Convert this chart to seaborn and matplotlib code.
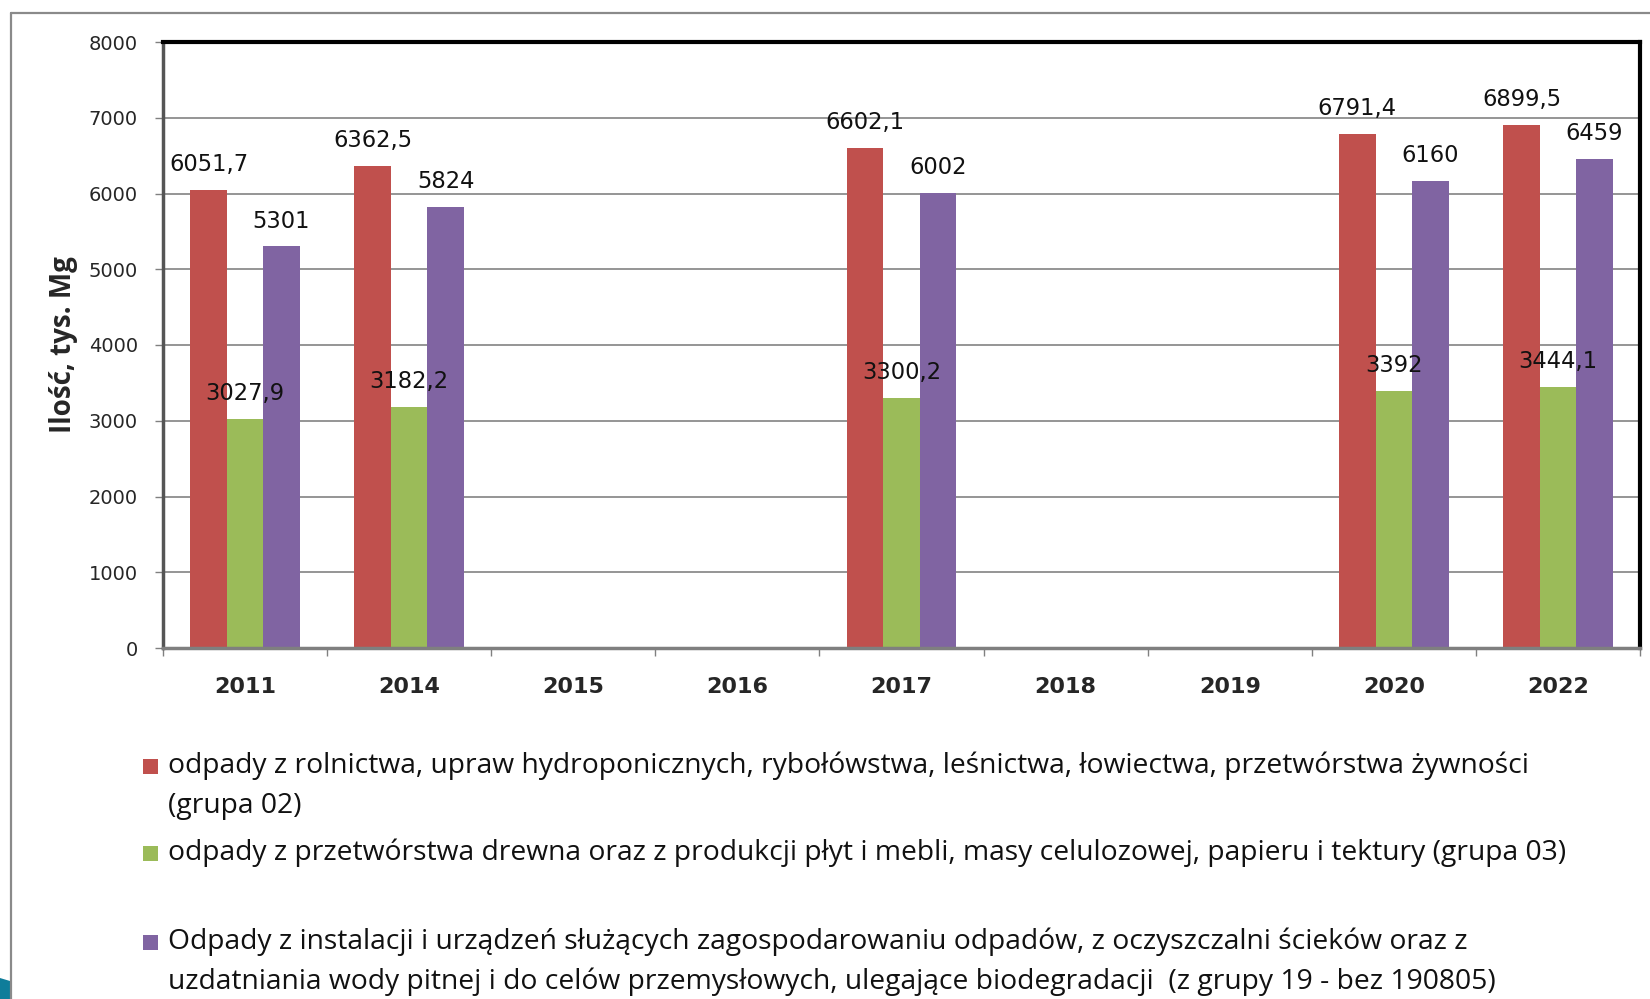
import numpy as np
import pandas as pd
import matplotlib
matplotlib.use("Agg")
import matplotlib.pyplot as plt
from matplotlib.lines import Line2D
from matplotlib.patches import Polygon, Rectangle
import seaborn as sns

# dane
lata = ["2011", "2014", "2015", "2016", "2017", "2018", "2019", "2020", "2022"]
grupa_02 = [6051.7, 6362.5, np.nan, np.nan, 6602.1, np.nan, np.nan, 6791.4, 6899.5]
grupa_03 = [3027.9, 3182.2, np.nan, np.nan, 3300.2, np.nan, np.nan, 3392, 3444.1]
grupa_19 = [5301, 5824, np.nan, np.nan, 6002, np.nan, np.nan, 6160, 6459]

serie = [
    "odpady z rolnictwa, upraw hydroponicznych, rybołówstwa, leśnictwa, łowiectwa, przetwórstwa żywności\n(grupa 02)",
    "odpady z przetwórstwa drewna oraz z produkcji płyt i mebli, masy celulozowej, papieru i tektury (grupa 03)",
    "Odpady z instalacji i urządzeń służących zagospodarowaniu odpadów, z oczyszczalni ścieków oraz z\n"
    "uzdatniania wody pitnej i do celów przemysłowych, ulegające biodegradacji  (z grupy 19 - bez 190805)",
]
kolory = ["#C0504D", "#9BBB59", "#8064A2"]

df = pd.DataFrame({
    "Rok": lata * 3,
    "Grupa": [serie[0]] * 9 + [serie[1]] * 9 + [serie[2]] * 9,
    "Ilosc": grupa_02 + grupa_03 + grupa_19,
})

sns.set_style("white")
plt.rcParams["font.family"] = ["DejaVu Sans"]

fig = plt.figure(figsize=(16.5, 9.99), dpi=100)
ax = fig.add_axes([163 / 1650, 1 - 648 / 999, (1640 - 163) / 1650, (648 - 42) / 999])

sns.barplot(data=df, x="Rok", y="Ilosc", hue="Grupa", order=lata, hue_order=serie,
            palette=kolory, width=0.667, saturation=1, legend=False, ax=ax, linewidth=0)

# etykiety nad słupkami
for c in ax.containers:
    etyk = [f"{v:g}".replace(".", ",") for v in c.datavalues]
    ax.bar_label(c, labels=etyk, padding=10, fontsize=16.3, color="#111111")

ax.set_ylim(0, 8000)
ax.set_xlim(-0.5, len(lata) - 0.5)
ax.set_yticks(np.arange(0, 8001, 1000))
ax.yaxis.grid(True, color="#8c8c8c", linewidth=1.3)
ax.set_axisbelow(True)
ax.set_xlabel("")
ax.set_ylabel("Ilość, tys. Mg", fontsize=20, fontweight="bold", family="Open Sans", labelpad=8)

ax.tick_params(axis="y", left=True, length=6, width=1, color="#808080", pad=12, labelsize=14)
ax.tick_params(axis="x", which="major", length=0, pad=21)
ax.set_xticks(np.arange(-0.5, len(lata), 1), minor=True)
ax.tick_params(axis="x", which="minor", bottom=True, length=6, width=1, color="#808080")
for t in ax.get_xticklabels():
    t.set_fontweight("bold")
    t.set_fontsize(16)

ax.spines["top"].set_color("black")
ax.spines["top"].set_linewidth(3)
ax.spines["right"].set_color("black")
ax.spines["right"].set_linewidth(3)
ax.spines["left"].set_color("#555555")
ax.spines["left"].set_linewidth(2.5)
ax.spines["bottom"].set_color("#7f7f7f")
ax.spines["bottom"].set_linewidth(2.5)

# legenda pod wykresem
W, H = 1650, 999
pozycje = [766, 853, 942]
for nazwa, kol, y0 in zip(serie, kolory, pozycje):
    fig.add_artist(Rectangle((143 / W, 1 - (y0 + 7.5) / H), 15 / W, 15 / H,
                             transform=fig.transFigure, color=kol, linewidth=0))
    for i, linia in enumerate(nazwa.split("\n")):
        fig.text(168 / W, 1 - (y0 + 40 * i) / H, linia, va="center", ha="left",
                 fontsize=20.3, family="Open Sans", color="#111111")

# ramka slajdu
fig.add_artist(Line2D([11 / W, 1], [1 - 12.5 / H, 1 - 12.5 / H], color="#8a8a8a", linewidth=1.6))
fig.add_artist(Line2D([11 / W, 11 / W], [0, 1 - 12.5 / H], color="#8a8a8a", linewidth=1.6))
fig.add_artist(Polygon([[0, 0], [10 / W, 0], [10 / W, 18 / H], [0, 21 / H]],
                       closed=True, transform=fig.transFigure, color="#0f7d9a", linewidth=0))

fig.savefig("out.png", dpi=100)
